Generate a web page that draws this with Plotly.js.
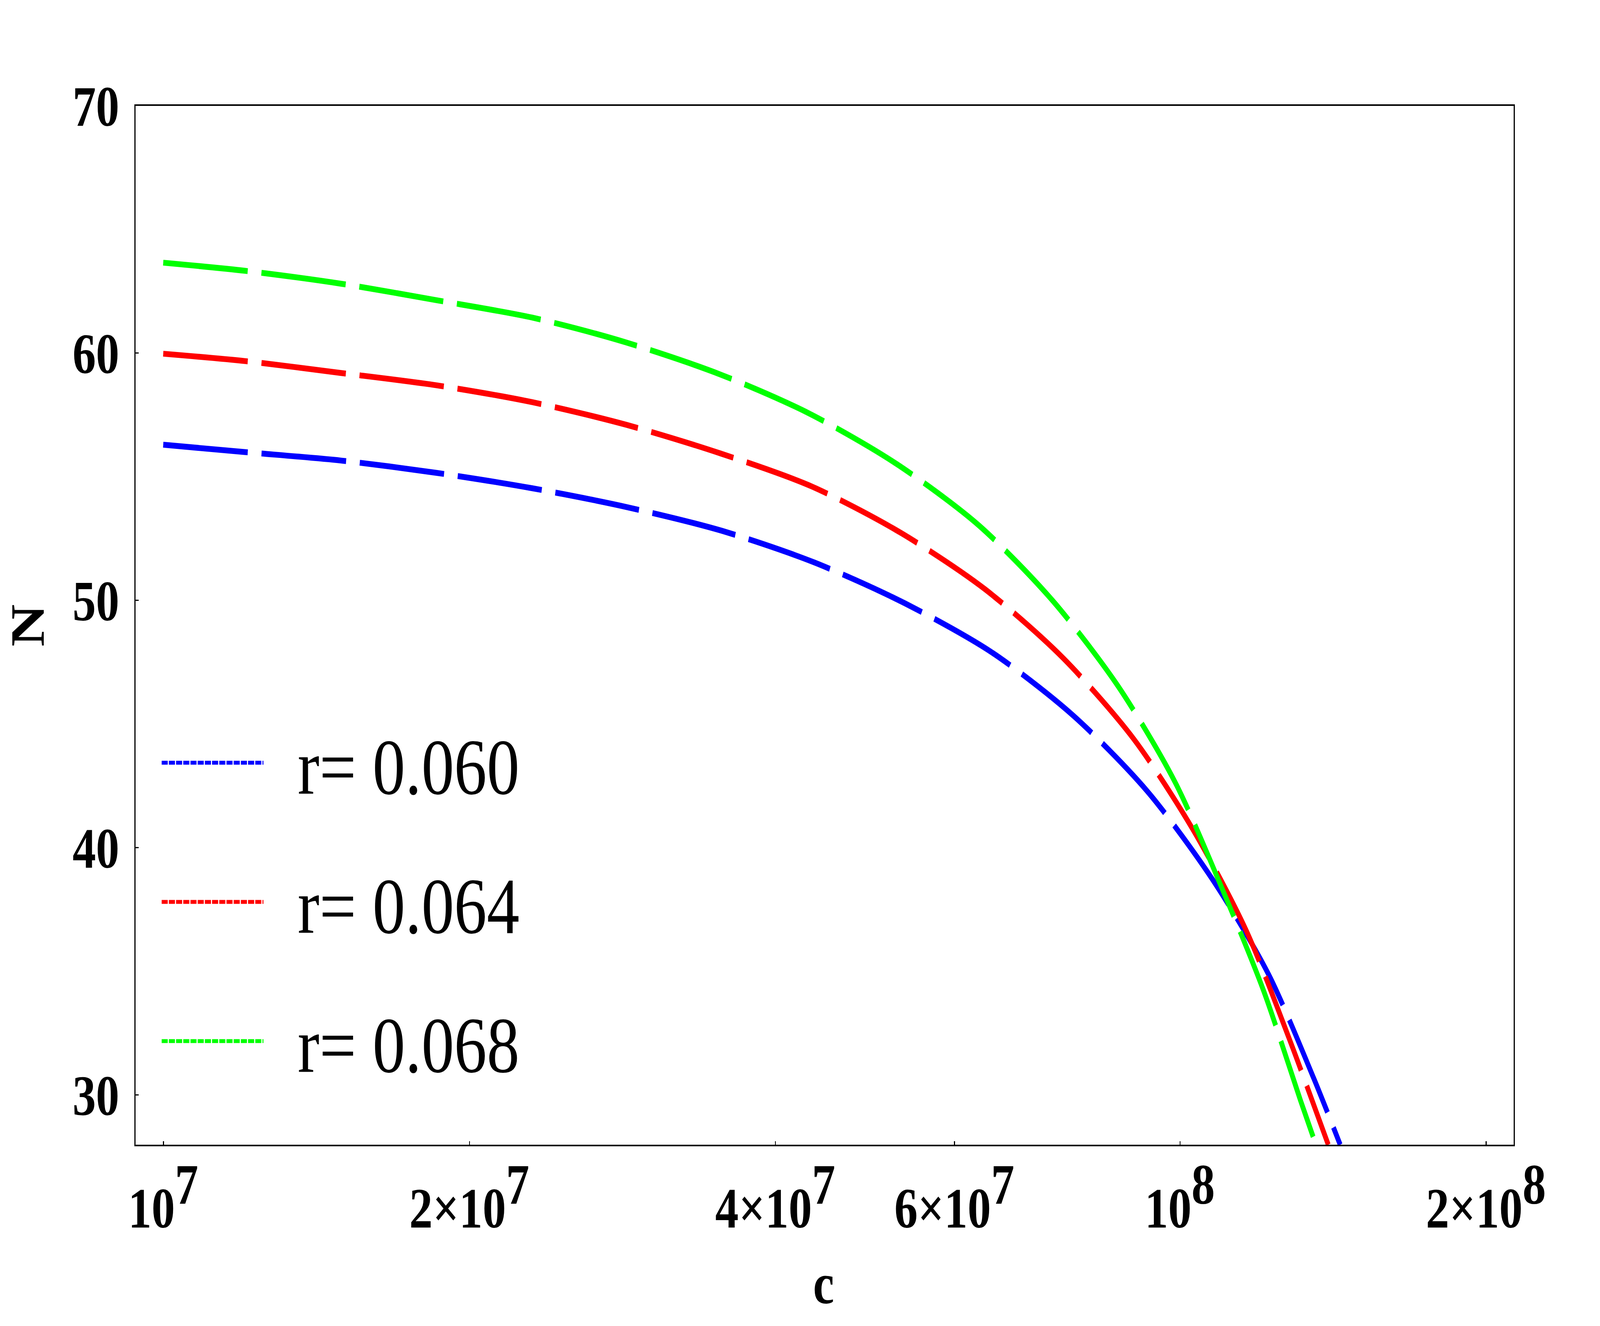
<!DOCTYPE html>
<html>
<head>
<meta charset="utf-8">
<script src="https://cdn.plot.ly/plotly-3.0.1.min.js"></script>
<style>
html,body{margin:0;padding:0;background:#fff;overflow:hidden;}
#wrap{position:absolute;left:0;top:0;width:5000px;height:3394px;transform-origin:0 0;}
</style>
</head>
<body>
<div id="wrap"><div id="chart" style="width:5000px;height:3394px;"></div></div>
<script>
// Series
const seriesNames = ["r= 0.060", "r= 0.064", "r= 0.068"];
const seriesColors = ["#0000ff", "#ff0000", "#00ff00"];

// r = 0.060 (blue)
const cBlue = [1.0e7, 1.205e7, 1.496e7, 1.859e7, 2.307e7, 2.864e7, 3.545e7, 4.370e7, 5.370e7, 6.546e7, 7.870e7, 9.290e7, 1.0775e8, 1.2224e8, 1.3541e8, 1.4379e8];
const nBlue = [56.3, 56.0, 55.66, 55.16, 54.54, 53.77, 52.82, 51.54, 49.88, 47.88, 45.32, 42.29, 38.71, 34.89, 30.69, 28.0];

// r = 0.064 (red)
const cRed = [1.0e7, 1.205e7, 1.496e7, 1.859e7, 2.307e7, 2.858e7, 3.532e7, 4.352e7, 5.319e7, 6.436e7, 7.683e7, 9.010e7, 1.0316e8, 1.1619e8, 1.2794e8, 1.3996e8];
const nRed = [59.98, 59.68, 59.2, 58.70, 58.02, 57.1, 55.95, 54.60, 52.73, 50.45, 47.66, 44.40, 40.70, 36.67, 32.35, 28.0];

// r = 0.068 (green)
const cGreen = [1.0e7, 1.205e7, 1.496e7, 1.859e7, 2.307e7, 2.851e7, 3.532e7, 4.321e7, 5.266e7, 6.347e7, 7.499e7, 8.701e7, 9.892e7, 1.098e8, 1.209e8, 1.314e8, 1.361e8];
const nGreen = [63.66, 63.33, 62.81, 62.14, 61.44, 60.44, 59.14, 57.56, 55.52, 53.03, 49.99, 46.52, 42.66, 38.45, 34.22, 29.80, 28.0];

// Axis ticks
const xTickVals = [1e7, 2e7, 4e7, 6e7, 1e8, 2e8];
const xTickMant = ["", "2×", "4×", "6×", "", "2×"];
const xTickExp = ["7", "7", "7", "7", "8", "8"];
const yTickVals = [30, 40, 50, 60, 70];

// Titles
const xTitle = "c";
const yTitle = "N";

const SERIF = "Liberation Serif, Times New Roman, serif";
const TICK_SIZE = 146;

const xTickText = xTickVals.map((v, i) =>
  xTickMant[i] + "10<sup><span style=\"font-size:" + TICK_SIZE + "px\">" + xTickExp[i] + "</span></sup>");

const xs = [cBlue, cRed, cGreen];
const ys = [nBlue, nRed, nGreen];

const traces = [];
for (let i = 0; i < 3; i++) {
  traces.push({
    x: xs[i], y: ys[i], type: "scatter", mode: "lines",
    name: seriesNames[i], legendgroup: "g" + i, showlegend: false,
    line: {color: seriesColors[i], width: 15, dash: "265px,43px", shape: "spline", smoothing: 0.8},
    hoverinfo: "skip"
  });
}
// legend samples (fine-dash style as in the reference legend)
for (let i = 0; i < 3; i++) {
  traces.push({
    x: [null], y: [null], type: "scatter", mode: "lines",
    name: "\u00a0\u00a0" + seriesNames[i], legendgroup: "g" + i, showlegend: true,
    line: {color: seriesColors[i], width: 16, dash: "19px,3.5px"}
  });
}

const axisCommon = {
  showline: true, linecolor: "black", linewidth: 4, mirror: true,
  ticks: "outside", tickwidth: 3, tickcolor: "rgba(0,0,0,0)",
  showgrid: false, zeroline: false, automargin: false,
  tickfont: {family: SERIF, size: TICK_SIZE, color: "black", weight: "bold"}
};

const layout = {
  width: 5000, height: 3394,
  paper_bgcolor: "white", plot_bgcolor: "white",
  margin: {l: 424, r: 270, t: 271, b: 464, pad: 0},
  showlegend: true,
  xaxis: Object.assign({}, axisCommon, {
    type: "log", range: [6.9729, 8.3283],
    tickmode: "array", tickvals: xTickVals, ticktext: xTickText,
    ticklen: 33,
    minor: {tickmode: "array", tickvals: xTickVals.map(v => v * 1.0004), ticks: "inside",
            ticklen: 9, tickwidth: 3, tickcolor: "black", showgrid: false}
  }),
  yaxis: Object.assign({}, axisCommon, {
    range: [28, 70], tickmode: "array", tickvals: yTickVals,
    ticktext: yTickVals.map(String),
    ticklen: 18,
    minor: {tickmode: "array", tickvals: yTickVals.map(v => v + 0.01), ticks: "inside",
            ticklen: 9, tickwidth: 3, tickcolor: "black", showgrid: false}
  }),
  annotations: [
    {text: xTitle, xref: "paper", yref: "paper", x: 0.4993, y: -0.1339,
     xanchor: "center", yanchor: "middle", showarrow: false,
     font: {family: SERIF, size: 148, color: "black", weight: "bold"}},
    {text: yTitle, xref: "paper", yref: "paper", x: -0.0785, y: 0.4998,
     xanchor: "center", yanchor: "middle", showarrow: false, textangle: -90,
     font: {family: SERIF, size: 150, color: "black", weight: "bold"}}
  ],
  legend: {
    x: 0.0177, y: 0.42, xanchor: "left", yanchor: "top",
    font: {family: SERIF, size: 204, color: "black"},
    itemwidth: 318, tracegroupgap: 88, traceorder: "grouped",
    bgcolor: "rgba(0,0,0,0)", borderwidth: 0
  }
};

// Fit the 5000x3394 drawing to the actual window
const sx = (window.innerWidth || 5000) / 5000;
const sy = (window.innerHeight || 3394) / 3394;
document.getElementById("wrap").style.transform = "scale(" + sx + "," + sy + ")";

Plotly.newPlot("chart", traces, layout, {staticPlot: true, displayModeBar: false});
</script>
</body>
</html>
